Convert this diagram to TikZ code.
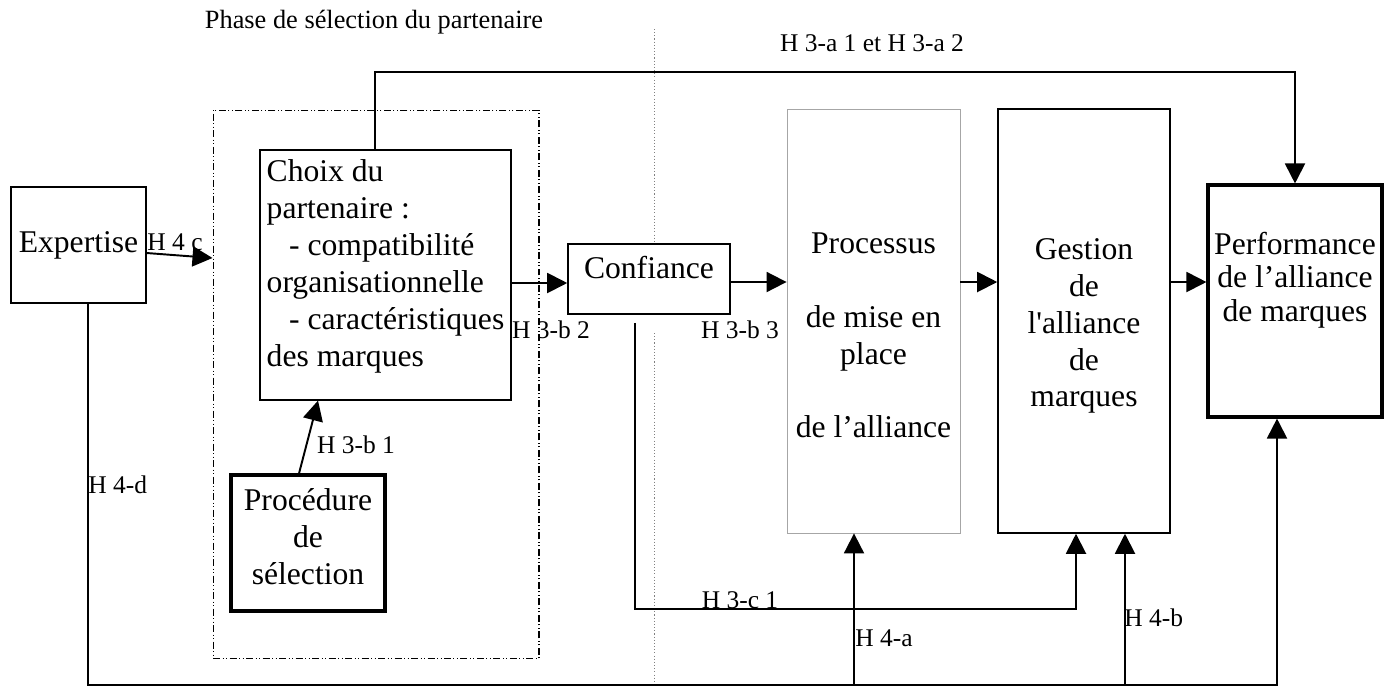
\documentclass[tikz,border=0pt]{standalone}
\usepackage{fontspec}
\setmainfont{Liberation Serif}
\usetikzlibrary{positioning,arrows.meta}
\newcommand{\blocfont}{\fontsize{18}{21}\selectfont}
\newcommand{\hypfont}{\fontsize{14.5}{17}\selectfont}
\tikzset{
	bloc/.style = {draw, line width=0.9pt, inner sep=0pt},
	bloctexte/.style = {font=\blocfont, align=center, inner sep=0pt},
	hyp/.style = {font=\hypfont, inner sep=0pt},
	fleche/.style = {line width=1.1pt, -{Triangle[length=0.4cm, width=0.4cm]}},
	phase/.style = {draw, line width=0.6pt, dash pattern=on 0.14cm off 0.05cm on 0.02cm off 0.05cm on 0.02cm off 0.05cm},
	separation/.style = {line width=0.5pt, gray, dash pattern=on 0.6pt off 1.2pt}
}

\begin{document}
\begin{tikzpicture}[x=0.02cm, y=-0.02cm]
	\useasboundingbox (0,0) rectangle (1393,687);

	\node[hyp, font=\fontsize{15}{18}\selectfont] (titre) at (374,22) {Phase de sélection du partenaire};
	\draw[separation] (654,29) -- (654,244);
	\draw[separation] (654,333) -- (654,687);

	\node[bloc, minimum width=2.7cm, minimum height=2.32cm, line width=0.6pt] (expertise) at (78.5,245) {};
	\node[phase, minimum width=6.52cm, minimum height=10.98cm] (selection) at (376,384.5) {};
	\node[bloc, minimum width=5.02cm, minimum height=5cm, line width=0.7pt] (choix) at (385.5,275) {};
	\node[bloc, minimum width=3.08cm, minimum height=2.72cm, line width=1.8pt] (procedure) at (308,543) {};
	\node[bloc, minimum width=3.24cm, minimum height=1.4cm] (confiance) at (649,279) {};
	\node[bloc, minimum width=3.46cm, minimum height=8.48cm, line width=0.5pt, draw=gray!70] (processus) at (873.5,321) {};
	\node[bloc, minimum width=3.44cm, minimum height=8.48cm] (gestion) at (1084,321) {};
	\node[bloc, minimum width=3.48cm, minimum height=4.64cm, line width=1.8pt] (performance) at (1295,301) {};

	\node[bloctexte] (expertise-t) at (expertise) {Expertise};
	\node[bloctexte, align=left] (choix-t) at ([yshift=0.17cm]choix.center) {Choix du\\partenaire :\\\hspace*{0.45cm}- compatibilité\\organisationnelle\\\hspace*{0.45cm}- caractéristiques\\des marques};
	\node[bloctexte] (procedure-t) at ([yshift=0.13cm]procedure.center) {Procédure\\de\\sélection};
	\node[bloctexte] (confiance-t) at ([yshift=0.22cm]confiance.center) {Confiance};
	\node[bloctexte] (processus-t) at ([yshift=-0.29cm]processus.center) {Processus\\[21pt]de mise en\\place\\[21pt]de l’alliance};
	\node[bloctexte] (gestion-t) at ([yshift=-0.1cm]gestion.center) {Gestion\\de\\l\textquotesingle alliance\\de\\marques};
	\node[bloctexte, font=\fontsize{18}{19}\selectfont] (performance-t) at ([yshift=0.42cm]performance.center) {Performance\\de l’alliance\\de marques};

	\coordinate (haut) at (0,72);
	\coordinate (bas31) at (0,609);
	\coordinate (bas) at (0,685);

	\draw[fleche] ([yshift=-0.16cm]expertise.east) -- ([yshift=-0.26cm]expertise.east -| selection.west);
	\draw[fleche] ([xshift=-0.18cm]procedure.north) -- ([xshift=-1.35cm]choix.south);
	\draw[fleche] ([yshift=-0.16cm]choix.east) -- ([yshift=-0.16cm]choix.east -| confiance.west);
	\draw[fleche] ([yshift=-0.06cm]confiance.east) -- ([yshift=-0.06cm]confiance.east -| processus.west);
	\draw[fleche] ([yshift=0.78cm]processus.east) -- ([yshift=0.78cm]processus.east -| gestion.west);
	\draw[fleche] ([yshift=0.78cm]gestion.east) -- ([yshift=0.78cm]gestion.east -| performance.west);
	\draw[fleche] ([xshift=-0.21cm]choix.north) -- ([xshift=-0.21cm]choix.north |- haut) -| (performance.north);
	\draw[fleche] ([xshift=-0.28cm, yshift=-0.16cm]confiance.south) |- ([xshift=-0.16cm]gestion.south |- bas31) -- ([xshift=-0.16cm]gestion.south);
	\draw[fleche] ([xshift=0.19cm]expertise.south) |- ([xshift=-0.36cm]performance.south |- bas) -- ([xshift=-0.36cm]performance.south);
	\draw[fleche] ([xshift=-0.39cm]processus.south |- bas) -- ([xshift=-0.39cm]processus.south);
	\draw[fleche] ([xshift=0.82cm]gestion.south |- bas) -- ([xshift=0.82cm]gestion.south);

	\node[hyp] (h3a) at (872,43) {H 3-a 1 et H 3-a 2};
	\node[hyp] (h4c) at (175,242) {H 4 c};
	\node[hyp] (h3b1) at (356,445) {H 3-b 1};
	\node[hyp] (h3b2) at (551,330) {H 3-b 2};
	\node[hyp] (h3b3) at (740,330) {H 3-b 3};
	\node[hyp] (h3c1) at (740,600) {H 3-c 1};
	\node[hyp, anchor=west] (h4d) at (88,485) {H 4-d};
	\node[hyp, anchor=west] (h4a) at (855,638) {H 4-a};
	\node[hyp, anchor=west] (h4b) at (1124,618) {H 4-b};

\end{tikzpicture}
\end{document}
